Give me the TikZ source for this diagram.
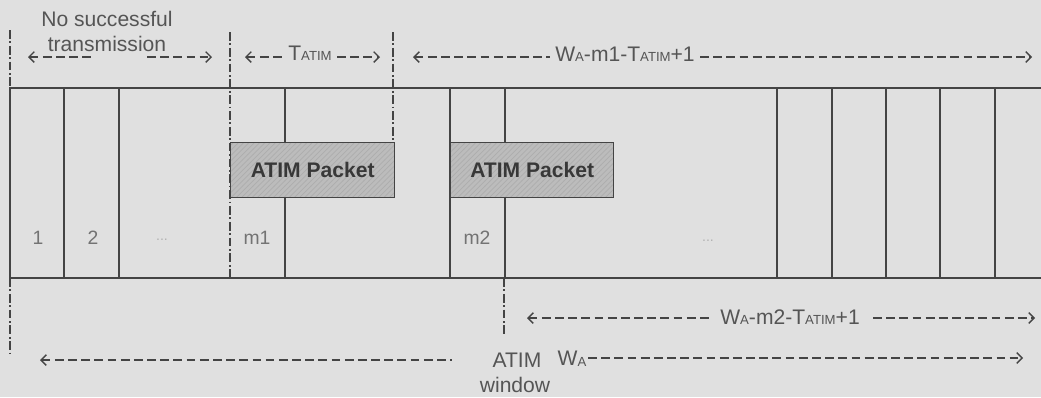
\documentclass[tikz,border=0pt]{standalone}
\usepackage{fontspec}
\setmainfont{Liberation Sans}
\usetikzlibrary{patterns,arrows.meta}
\definecolor{bg}{RGB}{224,224,224}
\definecolor{ink}{RGB}{68,68,68}
\definecolor{txt}{RGB}{85,85,85}
\definecolor{pale}{RGB}{115,115,115}
\definecolor{pk}{RGB}{188,188,188}
\newcommand{\lo}[1]{{\fontsize{7.5}{8}\selectfont #1}}
\begin{document}
\begin{tikzpicture}[x=0.02cm,y=-0.02cm,font=\fontsize{12}{14}\selectfont,text=txt]
            \def\yt{88}
            \def\yb{278}
            \def\ya{57}
            \tikzset{ln/.style={draw=ink,line width=0.6pt},
                dd/.style={draw=ink,line width=1.1pt,dash pattern=on 5pt off 1.5pt on 1pt off 1.5pt},
                dm/.style={draw=ink,line width=0.8pt,dash pattern=on 5pt off 2.5pt,>={Straight Barb[length=3pt,width=6pt]}},
                lb/.style={inner sep=0pt,anchor=base},
                sl/.style={inner sep=0pt,text=pale,font=\fontsize{11}{13}\selectfont},
                pkt/.style={draw=ink,line width=0.8pt,preaction={fill=pk},pattern=north east lines,pattern color=black!32,minimum height=1.1cm,inner sep=0pt,anchor=north west,text=black!78,font=\fontsize{12}{14}\selectfont\bfseries}}
            \fill[bg](0,0)rectangle(1041,397);
            \useasboundingbox(0,0)rectangle(1041,397);
            % slots
            \draw[ln](1041,\yt)--(10,\yt)--(10,\yb)--(1041,\yb);
            \foreach \x in {64,119,285,450,505,777,832,886,940,995}
            \draw[ln](\x,\yt)--(\x,\yb);
            % dash-dot marks
            \foreach \x/\a/\b in {10/30/\yt,10/\yb/357,230/32/\yb,393/32/142,504/\yb/334}
            \draw[dd](\x,\a)--(\x,\b);
            % packets
            \node[pkt,minimum width=3.28cm](P1) at (230,142){ATIM Packet};
            \node[pkt,minimum width=3.26cm](P2) at (450,142){ATIM Packet};
            % slot labels
            \path(38,238)node[sl](s1){1}(93,238)node[sl](s2){2}(257,238)node[sl](sm1){m1}(477,238)node[sl](sm2){m2};
            \path(162,240)node[sl,text=black!30,font=\fontsize{8}{9}\selectfont](d1){...}(708,241)node[sl,text=black!30,font=\fontsize{8}{9}\selectfont](d2){...};
            % labels
            \node[lb](ns) at (107,26){No successful};
            \node[lb](tr) at (107,51){transmission};
            \node[lb](ta) at (310,{\ya+3}){T\lo{ATIM}};
            \node[lb](w1) at (625,{\ya+4}){W\lo{A}-m1-T\lo{ATIM}+1};
            \node[lb](w2) at (790,324){W\lo{A}-m2-T\lo{ATIM}+1};
            \node[lb](aw) at (517,367){ATIM};
            \node[lb](wn) at (515,392){window};
            \node[lb](wa) at (572,365){W\raisebox{-1pt}{\lo{A}}};
            % dimension arrows
            \path(28,\ya)coordinate(n1)(92,\ya)coordinate(n2)(147,\ya)coordinate(n3)(212,\ya)coordinate(n4)
            (245,\ya)coordinate(t1)(284,\ya)coordinate(t2)(337,\ya)coordinate(t3)(380,\ya)coordinate(t4)
            (413,\ya)coordinate(u1)(550,\ya)coordinate(u2)(700,\ya)coordinate(u3)(1032,\ya)coordinate(u4)
            (527,318)coordinate(v1)(712,318)coordinate(v2)(873,318)coordinate(v3)(1035,318)coordinate(v4)
            (40,360)coordinate(z1)(452,360)coordinate(z2)(588,358)coordinate(z3)(1023,358)coordinate(z4);
            \foreach \x/\y in {n1/n2,t1/t2,u1/u2,v1/v2,z1/z2}
            \draw[dm,<-](\x)--(\y);
            \foreach \x/\y in {n3/n4,t3/t4,u3/u4,v3/v4,z3/z4}
            \draw[dm,->](\x)--(\y);
        \end{tikzpicture}
\end{document}
